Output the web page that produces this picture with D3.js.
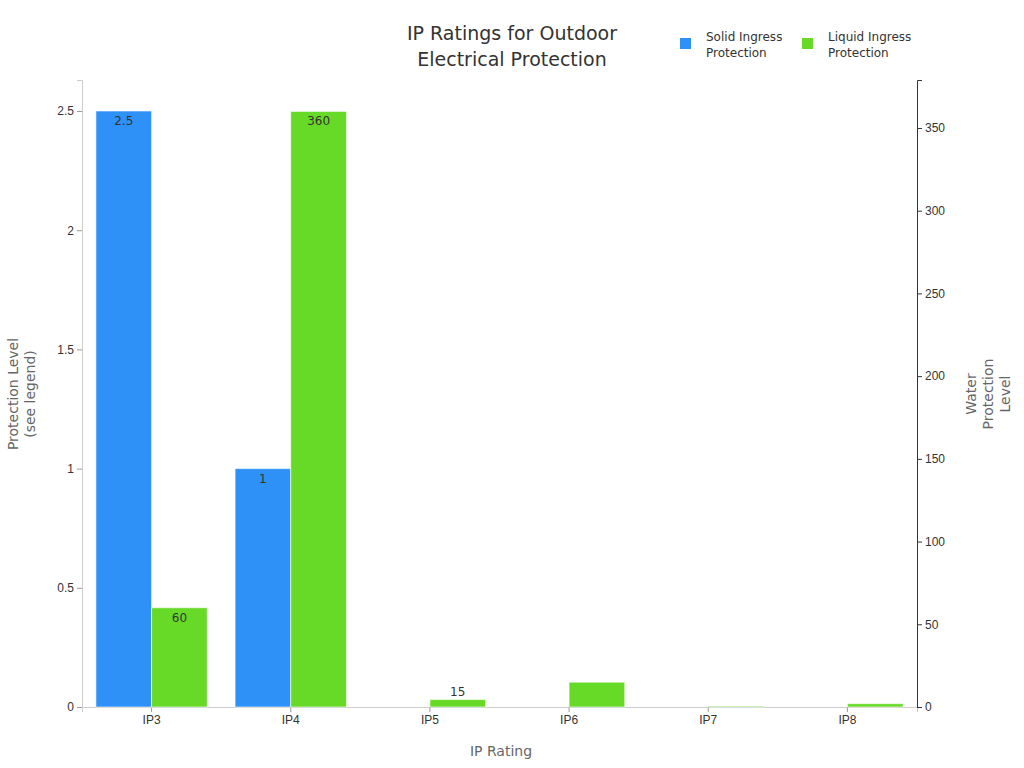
<!DOCTYPE html>
<html>
<head>
<meta charset="UTF-8">
<script src="https://cdn.jsdelivr.net/npm/d3@7"></script>
<style>
  body { margin: 0; background: #fff; font-family: "DejaVu Sans", sans-serif; }
</style>
</head>
<body>
<svg width="1024" height="768"></svg>
<script>
var categories = ["IP3", "IP4", "IP5", "IP6", "IP7", "IP8"];
var solid = [2.5, 1, 0, 0, 0, 0];
var liquid = [60, 360, 4.5, 15, 0.5, 2];
var leftTicks = [0, 0.5, 1, 1.5, 2, 2.5];
var rightTicks = [0, 50, 100, 150, 200, 250, 300, 350];

var svg = d3.select("svg");
var plotL = 82, plotR = 917, plotT = 80, plotB = 707;

var x = d3.scaleBand().domain(categories).range([plotL, plotR]).paddingInner(0.2).paddingOuter(0.1);
var yL = d3.scaleLinear().domain([0, 2.63]).range([plotB, plotT]);
var yR = d3.scaleLinear().domain([0, 379]).range([plotB, plotT]);
var bw = x.bandwidth() / 2;

svg.append("g").attr("transform", "translate(0," + plotB + ")")
  .call(d3.axisBottom(x).tickSizeOuter(0).tickSize(5))
  .call(function (g) {
    g.select(".domain").attr("stroke", "#ccc");
    g.selectAll("line").attr("stroke", "#999");
    g.selectAll("text").attr("font-size", 12).attr("fill", "#333");
  });
svg.append("g").attr("transform", "translate(" + plotL + ",0)")
  .call(d3.axisLeft(yL).tickValues(leftTicks).tickFormat(d3.format("")).tickSizeOuter(0).tickSize(5))
  .call(function (g) {
    g.select(".domain").attr("stroke", "#ccc");
    g.selectAll("line").attr("stroke", "#999");
    g.selectAll("text").attr("font-size", 12).attr("fill", "#333");
  });
svg.append("g").attr("transform", "translate(" + plotR + ",0)")
  .call(d3.axisRight(yR).tickValues(rightTicks).tickSizeOuter(0).tickSize(5))
  .call(function (g) {
    g.select(".domain").attr("stroke", "#333");
    g.selectAll("line").attr("stroke", "#333");
    g.selectAll("text").attr("font-size", 12).attr("fill", "#333");
  });

function bars(data, scale, off, color) {
  var gr = svg.append("g");
  gr.selectAll("rect").data(data).enter().append("rect")
    .attr("x", function (d, i) { return x(categories[i]) + off; })
    .attr("y", function (d) { return scale(d); })
    .attr("width", bw)
    .attr("height", function (d) { return plotB - scale(d); })
    .attr("fill", color).attr("stroke", "#fff").attr("stroke-opacity", 0.6);
  gr.selectAll("text").data(data).enter().filter(function (d) { return plotB - scale(d) > 14; })
    .append("text")
    .attr("x", function (d, i) { return x(categories[i]) + off + bw / 2; })
    .attr("y", function (d) { return scale(d) + 14; })
    .attr("text-anchor", "middle").attr("font-size", 12).attr("fill", "#333")
    .text(function (d) { return d; });
}
bars(solid, yL, 0, "#2e91f8");
bars(liquid, yR, bw, "#67da27");

svg.append("text").attr("x", 512).attr("y", 40).attr("text-anchor", "middle")
  .attr("font-size", 19).attr("fill", "#333").text("IP Ratings for Outdoor");
svg.append("text").attr("x", 512).attr("y", 66).attr("text-anchor", "middle")
  .attr("font-size", 19).attr("fill", "#333").text("Electrical Protection");

svg.append("text").attr("x", 501).attr("y", 756).attr("text-anchor", "middle")
  .attr("font-size", 14).attr("fill", "#666").text("IP Rating");

var ly = svg.append("text").attr("transform", "translate(18,394) rotate(-90)")
  .attr("text-anchor", "middle").attr("font-size", 14).attr("fill", "#666");
ly.append("tspan").attr("x", 0).attr("dy", 0).text("Protection Level");
ly.append("tspan").attr("x", 0).attr("dy", 17).text("(see legend)");

var ry = svg.append("text").attr("transform", "translate(976,394) rotate(-90)")
  .attr("text-anchor", "middle").attr("font-size", 14).attr("fill", "#666");
["Water", "Protection", "Level"].forEach(function (t, i) {
  ry.append("tspan").attr("x", 0).attr("dy", i ? 17 : 0).text(t);
});

var legend = [["Solid Ingress", "Protection", "#2e91f8", 680], ["Liquid Ingress", "Protection", "#67da27", 802]];
legend.forEach(function (l) {
  svg.append("rect").attr("x", l[3]).attr("y", 38).attr("width", 11).attr("height", 11).attr("fill", l[2]);
  svg.append("text").attr("x", l[3] + 26).attr("y", 41).attr("font-size", 12).attr("fill", "#333").text(l[0]);
  svg.append("text").attr("x", l[3] + 26).attr("y", 57).attr("font-size", 12).attr("fill", "#333").text(l[1]);
});
</script>
</body>
</html>
